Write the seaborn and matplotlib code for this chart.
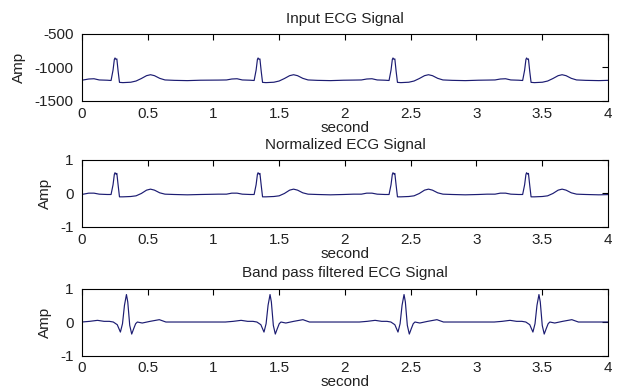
import numpy as np
import pandas as pd
import matplotlib
matplotlib.use("Agg")
import matplotlib.pyplot as plt
import seaborn as sns

# ---------------- data ----------------
# R-peak times (s) of each beat
input_peaks = [0.251, 1.339, 2.365, 3.381]
filtered_peaks = [0.338, 1.430, 2.449, 3.475]

# one beat of the input signal: offset from R peak (s) and amplitude
input_offsets = [-0.30, -0.24, -0.20, -0.16, -0.12, -0.06, -0.03, -0.015, -0.005, 0.0,
                 0.007, 0.014, 0.024, 0.034, 0.06, 0.12, 0.16, 0.20, 0.24, 0.27,
                 0.30, 0.34, 0.38, 0.45, 0.55, 0.65]
input_values = [-1188, -1186, -1172, -1168, -1186, -1190, -1194, -1040, -880, -858,
                -878, -872, -1060, -1222, -1226, -1220, -1202, -1165, -1122, -1108,
                -1122, -1162, -1186, -1192, -1196, -1190]

# one beat of the normalized signal
norm_values = [-0.02, -0.02, 0.01, 0.01, -0.02, -0.03, -0.03, 0.26, 0.57, 0.62,
               0.58, 0.60, 0.24, -0.10, -0.10, -0.09, -0.07, 0.00, 0.10, 0.13,
               0.10, 0.02, -0.02, -0.03, -0.04, -0.03]

# one beat of the band-pass filtered signal
filt_offsets = [-0.34, -0.28, -0.22, -0.17, -0.13, -0.10, -0.07, -0.046, -0.03, -0.015,
                0.0, 0.01, 0.025, 0.04, 0.055, 0.07, 0.083, 0.12, 0.18, 0.25,
                0.30, 0.36, 0.45, 0.55, 0.66]
filt_values = [0.00, 0.02, 0.05, 0.02, 0.02, 0.00, -0.08, -0.30, -0.05, 0.50,
               0.82, 0.60, -0.10, -0.36, -0.20, -0.05, 0.00, -0.03, 0.02, 0.07,
               0.00, 0.00, 0.00, 0.00, 0.00]

titles = ["Input ECG Signal", "Normalized ECG Signal", "Band pass filtered ECG Signal"]
x_ticks = [0, 0.5, 1, 1.5, 2, 2.5, 3, 3.5, 4]
x_labels = ["0", "0.5", "1", "1.5", "2", "2.5", "3", "3.5", "4"]
y_ticks_input = [-1500, -1000, -500]
y_ticks_unit = [-1, 0, 1]


def build(peaks, offsets, values):
    t, a = [], []
    for r in peaks:
        for o, v in zip(offsets, values):
            t.append(r + o)
            a.append(v)
    return pd.DataFrame({"second": t, "Amp": a})


signals = [
    build(input_peaks, input_offsets, input_values),
    build(input_peaks, input_offsets, norm_values),
    build(filtered_peaks, filt_offsets, filt_values),
]
ylims = [(-1500, -500), (-1, 1), (-1, 1)]
yticks = [y_ticks_input, y_ticks_unit, y_ticks_unit]

# ---------------- drawing ----------------
sns.set_theme(style="white")
plt.rcParams["font.family"] = ["Liberation Sans", "DejaVu Sans"]
plt.rcParams["axes.unicode_minus"] = False

fig = plt.figure(figsize=(6.17, 3.89), dpi=100)
left, width, height = 0.1329, 0.8525, 0.1722
bottoms = [0.7404, 0.4165, 0.0861]
line_color = "#1c1c72"
text_color = "#222222"
fs = 11

for i in range(3):
    ax = fig.add_axes([left, bottoms[i], width, height])
    sns.lineplot(data=signals[i], x="second", y="Amp", ax=ax, color=line_color,
                 linewidth=0.85, estimator=None, sort=False)
    ax.set_xlim(0, 4)
    ax.set_ylim(*ylims[i])
    ax.set_xticks(x_ticks)
    ax.set_xticklabels(x_labels)
    ax.set_yticks(yticks[i])
    ax.set_yticklabels([str(v) for v in yticks[i]])
    ax.tick_params(direction="in", top=True, right=True, length=4, width=0.8,
                   labelsize=fs, colors="black", labelcolor=text_color)
    ax.tick_params(axis="y", pad=6)
    ax.tick_params(axis="x", pad=4)
    for s in ax.spines.values():
        s.set_color("black")
        s.set_linewidth(0.8)
    ax.set_title(titles[i], fontsize=fs, pad=8, color=text_color)
    ax.set_xlabel("second", fontsize=fs, labelpad=0, color=text_color)
    ax.set_ylabel("Amp", fontsize=fs, labelpad=6, color=text_color)
    ax.set_facecolor("white")

fig.savefig("out.png", dpi=100, facecolor="white")
